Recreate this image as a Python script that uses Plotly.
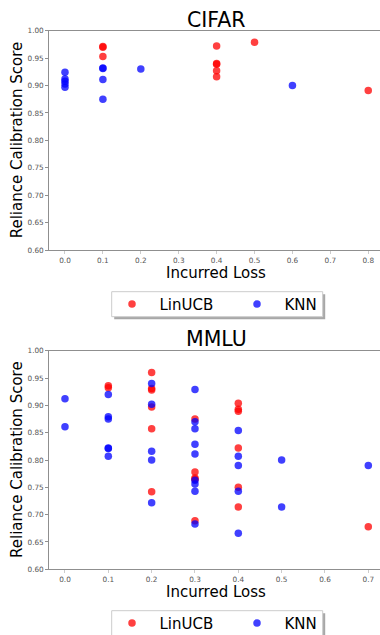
import plotly.graph_objects as go

# ---------------- data ----------------
cifar_linucb_x = [0.1, 0.1, 0.1, 0.4, 0.4, 0.4, 0.4, 0.4, 0.5, 0.8]
cifar_linucb_y = [0.971, 0.970, 0.953, 0.972, 0.940, 0.939, 0.927, 0.916, 0.979, 0.891]
cifar_knn_x = [0.0, 0.0, 0.0, 0.0, 0.0, 0.1, 0.1, 0.1, 0.1, 0.2, 0.6]
cifar_knn_y = [0.924, 0.912, 0.908, 0.903, 0.897, 0.932, 0.931, 0.911, 0.875, 0.930, 0.900]

mmlu_linucb_x = [0.1, 0.1,
                 0.2, 0.2, 0.2, 0.2, 0.2, 0.2,
                 0.3, 0.3, 0.3, 0.3, 0.3,
                 0.4, 0.4, 0.4, 0.4, 0.4, 0.4,
                 0.7]
mmlu_linucb_y = [0.936, 0.932,
                 0.960, 0.931, 0.928, 0.897, 0.857, 0.742,
                 0.875, 0.778, 0.767, 0.765, 0.689,
                 0.904, 0.893, 0.889, 0.822, 0.750, 0.714,
                 0.678]
mmlu_knn_x = [0.0, 0.0,
              0.1, 0.1, 0.1, 0.1, 0.1, 0.1,
              0.2, 0.2, 0.2, 0.2, 0.2,
              0.3, 0.3, 0.3, 0.3, 0.3, 0.3, 0.3, 0.3, 0.3,
              0.4, 0.4, 0.4, 0.4, 0.4,
              0.5, 0.5,
              0.7]
mmlu_knn_y = [0.912, 0.861,
              0.920, 0.879, 0.875, 0.822, 0.821, 0.807,
              0.940, 0.902, 0.816, 0.800, 0.722,
              0.929, 0.870, 0.857, 0.829, 0.811, 0.763, 0.756, 0.743, 0.683,
              0.854, 0.807, 0.790, 0.743, 0.666,
              0.800, 0.714,
              0.790]

y_ticks = [0.60, 0.65, 0.70, 0.75, 0.80, 0.85, 0.90, 0.95, 1.00]
cifar_x_ticks = [0.0, 0.1, 0.2, 0.3, 0.4, 0.5, 0.6, 0.7, 0.8]
mmlu_x_ticks = [0.0, 0.1, 0.2, 0.3, 0.4, 0.5, 0.6, 0.7]

# ---------------- layout helpers ----------------
W, H = 380, 635
FONT = "DejaVu Sans"


def fx(p):
    return p / W


def fy(p):
    return 1 - p / H


RED = "red"
BLUE = "blue"
ALPHA = 0.75
MSIZE = 7.5

fig = go.Figure()


def add_scatter(x, y, name, color, xa, ya, legend, show):
    fig.add_trace(go.Scatter(
        x=x, y=y, mode="markers", name="\u2002" + name,
        marker=dict(color=color, size=MSIZE, opacity=ALPHA, line=dict(width=0)),
        xaxis=xa, yaxis=ya, legend=legend, showlegend=show, cliponaxis=False,
    ))


add_scatter(cifar_linucb_x, cifar_linucb_y, "LinUCB", RED, "x", "y", "legend", True)
add_scatter(cifar_knn_x, cifar_knn_y, "KNN", BLUE, "x", "y", "legend", True)
add_scatter(mmlu_linucb_x, mmlu_linucb_y, "LinUCB", RED, "x2", "y2", "legend2", True)
add_scatter(mmlu_knn_x, mmlu_knn_y, "KNN", BLUE, "x2", "y2", "legend2", True)

SPINE = "#8f8f8f"
TICKFONT = dict(family=FONT, size=7.3, color="#555555")

# plot areas (pixels)
left_px, right_px = 49.3, 380
top1, bot1 = 30.7, 250.0
top2, bot2 = 350.7, 569.3


def xaxis_cfg(rng, ticks, anchor):
    return dict(
        domain=[fx(left_px), fx(right_px)], range=rng, anchor=anchor,
        tickmode="array", tickvals=ticks, ticktext=[f"{t:.1f}" for t in ticks],
        showgrid=False, zeroline=False, showline=True, linecolor=SPINE, linewidth=1.2,
        mirror=True, ticks="outside", ticklen=3, tickcolor="#cccccc", tickwidth=1,
        tickfont=TICKFONT,
    )


def yaxis_cfg(dom, anchor):
    return dict(
        domain=dom, range=[0.6, 1.0], anchor=anchor,
        tickmode="array", tickvals=y_ticks, ticktext=[f"{t:.2f}" for t in y_ticks],
        showgrid=False, zeroline=False, showline=True, linecolor=SPINE, linewidth=1.2,
        ticks="outside", ticklen=3, tickcolor=SPINE, tickwidth=1,
        tickfont=TICKFONT,
    )


legend_common = dict(
    orientation="h", bgcolor="rgba(0,0,0,0)", borderwidth=0,
    font=dict(family=FONT, size=15, color="black"),
    entrywidth=80, entrywidthmode="pixels",
    xanchor="left", yanchor="middle", itemclick=False,
)

fig.update_layout(
    width=W, height=H,
    margin=dict(l=0, r=0, t=0, b=0, autoexpand=False),
    paper_bgcolor="white", plot_bgcolor="white",
    font=dict(family=FONT),
    xaxis=xaxis_cfg([-0.0414, 0.831], cifar_x_ticks, "y"),
    yaxis=yaxis_cfg([fy(bot1), fy(top1)], "x"),
    xaxis2=xaxis_cfg([-0.0362, 0.727], mmlu_x_ticks, "y2"),
    yaxis2=yaxis_cfg([fy(bot2), fy(top2)], "x2"),
    legend=dict(legend_common, x=fx(112), y=fy(304.3)),
    legend2=dict(legend_common, x=fx(112), y=fy(623.3)),
)

# legend frames (box + shadow)
shapes = []
for (bx0, by0, bx1, by1) in [(111.7, 291.7, 322.7, 316.7), (111.7, 610.7, 322.7, 635.7)]:
    shapes.append(dict(type="rect", xref="paper", yref="paper",
                       x0=fx(bx0 + 2.5), x1=fx(bx1 + 2.5), y0=fy(by0 + 2.5), y1=fy(by1 + 2.5),
                       fillcolor="rgba(80,80,80,0.5)", line=dict(width=0), layer="below"))
    shapes.append(dict(type="rect", xref="paper", yref="paper",
                       x0=fx(bx0), x1=fx(bx1), y0=fy(by0), y1=fy(by1),
                       fillcolor="white", line=dict(color="#cccccc", width=1), layer="below"))
fig.update_layout(shapes=shapes)

annotations = [
    dict(text="CIFAR", x=fx(216.7), y=fy(19.5), font=dict(size=20.5)),
    dict(text="MMLU", x=fx(216.7), y=fy(339), font=dict(size=20.5)),
    dict(text="Incurred Loss", x=fx(216.3), y=fy(272.7), font=dict(size=15)),
    dict(text="Incurred Loss", x=fx(216.3), y=fy(591.7), font=dict(size=15)),
    dict(text="Reliance Calibration Score", x=fx(17), y=fy((top1 + bot1) / 2),
         textangle=-90, font=dict(size=15)),
    dict(text="Reliance Calibration Score", x=fx(17), y=fy((top2 + bot2) / 2),
         textangle=-90, font=dict(size=15)),
]
for a in annotations:
    a.update(xref="paper", yref="paper", xanchor="center", yanchor="middle", showarrow=False)
    a["font"].update(family=FONT, color="black")
fig.update_layout(annotations=annotations)

fig.write_html(
    "out.html",
    config={"displayModeBar": False},
    post_script="document.body.style.margin='0';document.body.style.overflow='hidden';",
)
